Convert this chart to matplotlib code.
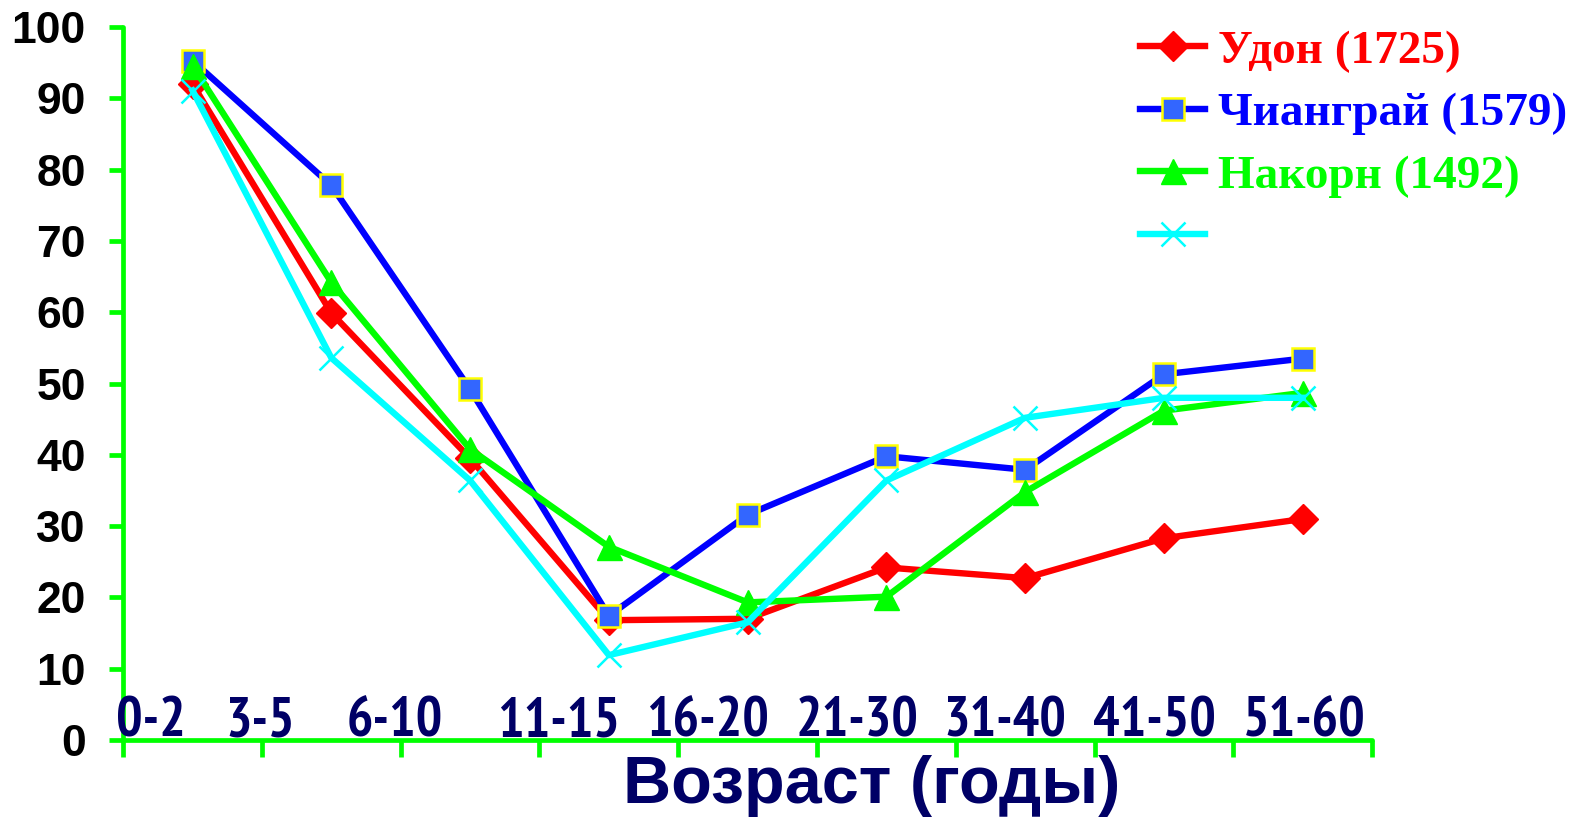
import matplotlib
matplotlib.use("Agg")
import matplotlib.pyplot as plt
from matplotlib.lines import Line2D
import numpy as np

# age groups and the percentages
age_groups = ["0-2", "3-5", "6-10", "11-15", "16-20", "21-30", "31-40", "41-50", "51-60"]
udon = [92.0, 59.9, 39.5, 16.8, 17.0, 24.2, 22.7, 28.3, 31.0]
chiangrai = [95.3, 77.8, 49.2, 17.4, 31.6, 39.8, 37.9, 51.3, 53.5]
nakorn = [94.6, 64.2, 40.8, 27.1, 19.3, 20.1, 34.8, 46.2, 48.7]
fourth = [91.1, 53.6, 36.4, 11.9, 16.5, 36.4, 45.2, 48.0, 48.0]
legend_labels = ["Удон (1725)", "Чиангрaй (1579)".replace("a", "а"), "Накорн (1492)", ""]

# where the category texts sit along the axis (they are offset in the original)
label_pos = [0.20, 0.99, 1.96, 3.14, 4.21, 5.29, 6.35, 7.43, 8.51]

GREEN = "#00FF00"
NAVY = "#000066"
NARROW = ["PT Sans Narrow", "Roboto Condensed", "Liberation Sans"]

fig = plt.figure(figsize=(15.79, 8.22), dpi=100)
ax = fig.add_axes([0.078, 0.0998, 0.791, 0.8672])

styles = [
    dict(color="red", marker="D", ms=15, mec="red"),
    dict(color="blue", marker="s", ms=16, mfc="#3366FF", mec="#FFFF00", mew=1.8),
    dict(color=GREEN, marker="^", ms=18, mec=GREEN),
    dict(color="#00FFFF", marker="x", ms=17, mew=1.8),
]

x = np.arange(len(age_groups)) + 0.5
for i, (vals, st) in enumerate(zip([udon, chiangrai, nakorn, fourth], styles)):
    ax.plot(x, vals, lw=4.6, zorder=3 + i, clip_on=False, **st)

ax.set_xlim(0, len(age_groups))
ax.set_ylim(0, 100)
ax.set_yticks(np.arange(0, 101, 10))
ax.set_xticks(np.arange(0, len(age_groups) + 1))
ax.set_xticklabels([])

for s in ["top", "right"]:
    ax.spines[s].set_visible(False)
for s in ["left", "bottom"]:
    ax.spines[s].set_color(GREEN)
    ax.spines[s].set_linewidth(3.4)
    ax.spines[s].set_capstyle("round")

ax.tick_params(axis="y", direction="out", length=10, width=3.4, color=GREEN, pad=17)
ax.tick_params(axis="x", direction="out", length=12, width=3.4, color=GREEN)
for t in ax.get_yticklabels():
    t.set_fontfamily("Liberation Sans")
    t.set_fontweight("bold")
    t.set_fontsize(32)

for pos, lab in zip(label_pos, age_groups):
    ax.text(pos, 0.5, lab, ha="center", va="baseline", fontsize=40,
            fontweight="bold", color=NAVY, family=NARROW)

fig.text(0.552, 0.044, "Возраст (годы)", ha="center", va="center", fontsize=48,
         fontweight="bold", color=NAVY, family="Liberation Sans")

handles = [Line2D([], [], lw=4.6, **st) for st in styles]
leg = fig.legend(handles, legend_labels, loc="upper left",
                 bbox_to_anchor=(0.701, 1.004), frameon=False,
                 prop={"family": "Liberation Serif", "weight": "bold", "size": 34},
                 handlelength=1.38, handletextpad=0.28, labelspacing=0.41,
                 borderpad=0.2)
for txt, st in zip(leg.get_texts(), styles):
    txt.set_color(st["color"])

fig.savefig("out.png", dpi=100)
